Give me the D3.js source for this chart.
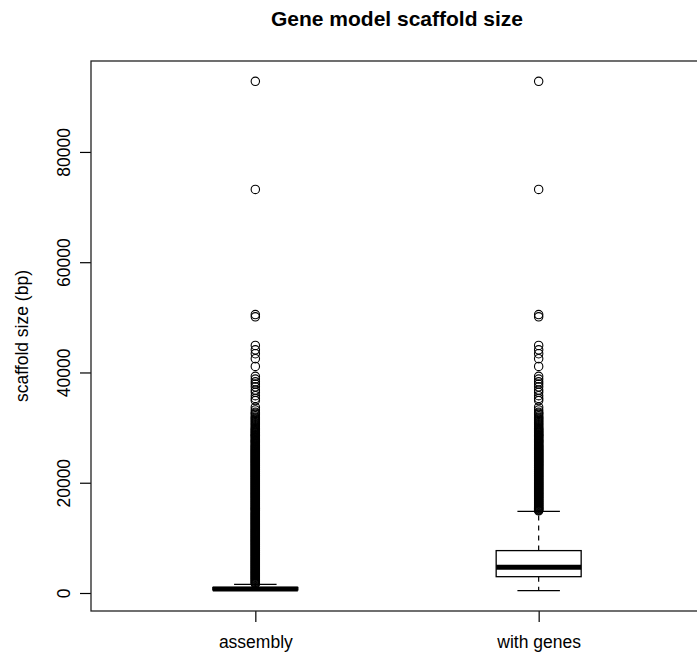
<!DOCTYPE html>
<html>
<head>
<meta charset="utf-8">
<script src="https://cdn.jsdelivr.net/npm/d3@7"></script>
<style>
  body { margin: 0; background: #fff; }
  svg { display: block; font-family: "Liberation Sans", Arial, sans-serif; }
  .axis text { font-size: 17.5px; fill: #000; }
  .axis line { stroke: #000; stroke-width: 1.2; }
</style>
</head>
<body>
<div class="grafico"></div>
<script>
// five-number summaries (bp)
var categories = ["assembly", "with genes"];
var whiskerLow = [500, 430];
var lowerQuart = [560, 2960];
var medians = [727, 4670];
var upperQuart = [1000, 7690];
var whiskerHigh = [1580, 14800];

// outliers above ~14.9 kb, the same scaffolds appear in both groups
var largeOutliers = [92800, 73200, 50500, 50100, 44900, 44100, 43400, 42500, 41100,
    39300, 38800, 38300, 37900, 37400, 36800, 36400, 35800, 35300, 34900, 33700,
    33200, 32800, 32600, 32400, 32100, 31900, 31700, 31500, 31300, 31100, 30900,
    30700, 30500, 30300, 30100, 29900, 29750, 29600, 29450, 29300, 29150, 29000,
    28850, 28700, 28600, 28500, 28350, 28200, 28050, 27900, 27750, 27600, 27520,
    27400, 27250, 27100, 26940, 26800, 26680,
    26550, 26420, 26300, 26170, 26060, 25940, 25810, 25700, 25580, 25450, 25340,
    25220, 25090, 24980, 24860, 24730, 24620, 24500, 24370, 24260, 24140, 24010,
    23900, 23780, 23650, 23540, 23420, 23290, 23180, 23060, 22930, 22820, 22700,
    22570, 22460, 22340, 22210, 22100, 21980, 21850, 21740, 21620, 21490, 21380,
    21260, 21130, 21020, 20900, 20770, 20660, 20540, 20410, 20300, 20180, 20050,
    19940, 19820, 19690, 19580, 19460, 19330, 19220, 19100, 18970, 18860, 18740,
    18610, 18500, 18380, 18250, 18140, 18020, 17890, 17780, 17660, 17530, 17420,
    17300, 17170, 17060, 16940, 16810, 16700, 16580, 16450, 16340, 16220, 16090,
    15980, 15860, 15730, 15620, 15500, 15370, 15260, 15140, 15010, 14900];

// outliers of the whole assembly between its whisker and 14.9 kb
var assemblyOutliers = [1650, 1760, 1890, 2010, 2120, 2250, 2370, 2480, 2610, 2730,
    2840, 2970, 3090, 3200, 3330, 3450, 3560, 3690, 3810, 3920, 4050, 4170, 4280,
    4410, 4530, 4640, 4770, 4890, 5000, 5130, 5250, 5360, 5490, 5610, 5720, 5850,
    5970, 6080, 6210, 6330, 6440, 6570, 6690, 6800, 6930, 7050, 7160, 7290, 7410,
    7520, 7650, 7770, 7880, 8010, 8130, 8240, 8370, 8490, 8600, 8730, 8850, 8960,
    9090, 9210, 9320, 9450, 9570, 9680, 9810, 9930, 10040, 10170, 10290, 10400,
    10530, 10650, 10760, 10890, 11010, 11120, 11250, 11370, 11480, 11610, 11730,
    11840, 11970, 12090, 12200, 12330, 12450, 12560, 12690, 12810, 12920, 13050,
    13170, 13280, 13410, 13530, 13640, 13770, 13890, 14000, 14130, 14250, 14360,
    14490, 14610, 14720];

var yTicks = [0, 20000, 40000, 60000, 80000];

var outliers = [assemblyOutliers.concat(largeOutliers), largeOutliers];

var margin = { top: 61, right: -6, bottom: 43, left: 91 },
    width = 697 - margin.left - margin.right,
    height = 654 - margin.top - margin.bottom;

var svg = d3.select('.grafico')
    .append('svg')
    .attr("width", 697)
    .attr("height", 654)
    .style("overflow", "hidden");

var g = svg.append("g")
    .attr("transform", "translate(" + margin.left + "," + margin.top + ")");

// R style range: data extent padded by 4% on both ends
var allValues = d3.merge([whiskerLow, whiskerHigh, outliers[0], outliers[1]]);
var yMin = d3.min(allValues), yMax = d3.max(allValues);
var pad = (yMax - yMin) * 0.04;

var xRange = d3.scaleLinear()
    .domain([0.42, 2.58])
    .range([0, width]);

var yRange = d3.scaleLinear()
    .domain([yMin - pad, yMax + pad])
    .range([height, 0]);

var boxHalf = 0.15, capHalf = 0.075;

// axes
var yAxis = d3.axisLeft()
    .scale(yRange)
    .tickValues(yTicks)
    .tickFormat(d3.format("d"))
    .tickSize(11);

var xAxis = d3.axisBottom()
    .scale(xRange)
    .tickValues([1, 2])
    .tickFormat(function(d) { return categories[d - 1]; })
    .tickSize(11);

var yG = g.append("g")
    .attr("class", "axis")
    .call(yAxis);
yG.select(".domain").remove();
yG.selectAll(".tick text")
    .attr("x", 0)
    .attr("y", -21)
    .attr("dy", null)
    .attr("text-anchor", "middle")
    .attr("transform", "rotate(-90)");

var xG = g.append("g")
    .attr("class", "axis")
    .attr("transform", "translate(0," + height + ")")
    .call(xAxis);
xG.select(".domain").remove();
xG.selectAll(".tick text")
    .attr("y", 37)
    .attr("dy", null);

// boxes
var boxes = g.selectAll(".caja")
    .data(categories)
    .enter()
    .append("g")
    .attr("class", "caja");

boxes.append("line")
    .attr("x1", function(d, i) { return xRange(i + 1); })
    .attr("x2", function(d, i) { return xRange(i + 1); })
    .attr("y1", function(d, i) { return yRange(upperQuart[i]); })
    .attr("y2", function(d, i) { return yRange(whiskerHigh[i]); })
    .attr("stroke", "#000")
    .attr("stroke-width", 1.2)
    .attr("stroke-dasharray", "5,5");

boxes.append("line")
    .attr("x1", function(d, i) { return xRange(i + 1); })
    .attr("x2", function(d, i) { return xRange(i + 1); })
    .attr("y1", function(d, i) { return yRange(lowerQuart[i]); })
    .attr("y2", function(d, i) { return yRange(whiskerLow[i]); })
    .attr("stroke", "#000")
    .attr("stroke-width", 1.2)
    .attr("stroke-dasharray", "5,5");

[whiskerHigh, whiskerLow].forEach(function(arr) {
    boxes.append("line")
        .attr("x1", function(d, i) { return xRange(i + 1 - capHalf); })
        .attr("x2", function(d, i) { return xRange(i + 1 + capHalf); })
        .attr("y1", function(d, i) { return yRange(arr[i]); })
        .attr("y2", function(d, i) { return yRange(arr[i]); })
        .attr("stroke", "#000")
        .attr("stroke-width", 1.2);
});

boxes.append("rect")
    .attr("x", function(d, i) { return xRange(i + 1 - boxHalf); })
    .attr("width", function(d, i) { return xRange(i + 1 + boxHalf) - xRange(i + 1 - boxHalf); })
    .attr("y", function(d, i) { return yRange(upperQuart[i]); })
    .attr("height", function(d, i) { return yRange(lowerQuart[i]) - yRange(upperQuart[i]); })
    .attr("fill", "#fff")
    .attr("stroke", "#000")
    .attr("stroke-width", 1.3);

boxes.append("line")
    .attr("x1", function(d, i) { return xRange(i + 1 - boxHalf); })
    .attr("x2", function(d, i) { return xRange(i + 1 + boxHalf); })
    .attr("y1", function(d, i) { return yRange(medians[i]); })
    .attr("y2", function(d, i) { return yRange(medians[i]); })
    .attr("stroke", "#000")
    .attr("stroke-width", 5);

// outliers
boxes.each(function(d, i) {
    d3.select(this).selectAll("circle")
        .data(outliers[i])
        .enter()
        .append("circle")
        .attr("cx", xRange(i + 1))
        .attr("cy", function(v) { return yRange(v); })
        .attr("r", 4.2)
        .attr("fill", "none")
        .attr("stroke", "#000")
        .attr("stroke-width", 1.1);
});

// plot frame
g.append("rect")
    .attr("width", width)
    .attr("height", height)
    .attr("fill", "none")
    .attr("stroke", "#222")
    .attr("stroke-width", 1.3);

// labels
svg.append("text")
    .attr("x", margin.left + width / 2)
    .attr("y", 26)
    .attr("text-anchor", "middle")
    .style("font-size", "21px")
    .style("font-weight", "bold")
    .text("Gene model scaffold size");

svg.append("text")
    .attr("transform", "translate(28," + (margin.top + height / 2) + ") rotate(-90)")
    .attr("text-anchor", "middle")
    .style("font-size", "17.5px")
    .text("scaffold size (bp)");
</script>
</body>
</html>
